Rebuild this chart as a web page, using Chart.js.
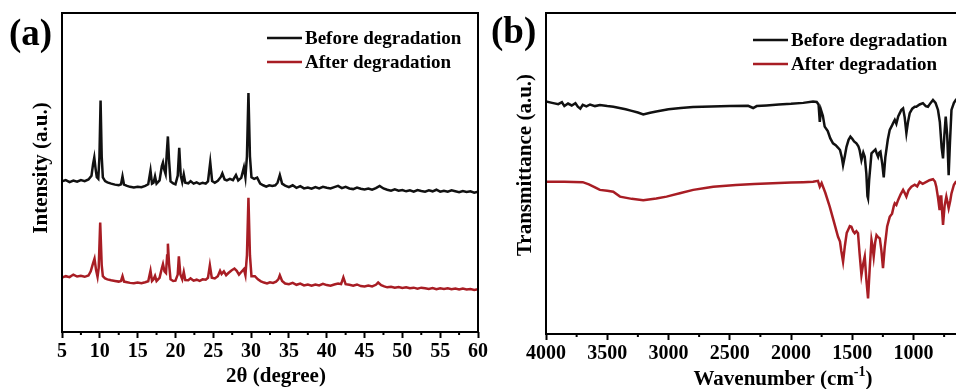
<!DOCTYPE html>
<html lang="en">
<head>
  <meta charset="UTF-8">
  <title>XRD and FTIR before / after degradation</title>
  <script src="https://cdn.jsdelivr.net/npm/chart.js"></script>
  <style>
    html, body {
      margin: 0;
      padding: 0;
      width: 956px;
      height: 389px;
      overflow: hidden;
      background: #fff;
    }
    #wrapA, #wrapB {
      position: absolute;
      top: 0;
    }
    #wrapA { left: 0; width: 500px; height: 389px; }
    #wrapB { left: 480px; width: 520px; height: 389px; }
  </style>
</head>
<body>

  <div id="wrapA"><canvas id="xrd" width="500" height="389"></canvas></div>
  <div id="wrapB"><canvas id="ftir" width="520" height="389"></canvas></div>

  <script>
    const seriesNames = ['Before degradation', 'After degradation'];

    // (a) XRD, 2θ in degrees
    const xrdTicks = [5, 10, 15, 20, 25, 30, 35, 40, 45, 50, 55, 60];
    const xrdBeforeX = [5.0, 5.5, 6.0, 6.5, 7.0, 7.5, 8.0, 8.5, 8.9, 9.1, 9.27, 9.45, 9.6, 9.8, 9.95, 10.1, 10.25, 10.4, 10.7, 11.0,
      11.5, 12.0, 12.5, 12.8, 13.0, 13.2, 13.6, 14.0, 14.5, 15.0, 15.5, 16.0, 16.4, 16.7, 16.9, 17.1, 17.3, 17.5, 17.9, 18.2,
      18.35, 18.5, 18.7, 18.85, 19.0, 19.15, 19.35, 19.7, 20.0, 20.3, 20.5, 20.7, 20.9, 21.1, 21.3, 21.7, 22.0, 22.4, 22.8, 23.2,
      23.6, 24.0, 24.3, 24.6, 24.85, 25.2, 25.6, 26.0, 26.2, 26.5, 26.8, 27.2, 27.6, 28.0, 28.3, 28.7, 29.05, 29.25, 29.45, 29.65,
      29.85, 30.05, 30.4, 30.8, 31.2, 31.6, 32.0, 32.4, 32.8, 33.2, 33.5, 33.8, 34.1, 34.5, 35.0, 35.5, 36.0, 36.5, 37.0, 37.5,
      38.0, 38.5, 39.0, 39.5, 40.0, 40.5, 41.0, 41.5, 42.0, 42.5, 43.0, 43.5, 44.0, 44.5, 45.0, 45.5, 46.0, 46.5, 47.0, 47.5,
      48.0, 48.5, 49.0, 49.5, 50.0, 50.5, 51.0, 51.5, 52.0, 52.5, 53.0, 53.5, 54.0, 54.5, 55.0, 55.5, 56.0, 56.5, 57.0, 57.5,
      58.0, 58.5, 59.0, 59.5, 60.0];
    const xrdBeforeY = [47.2, 47.6, 47.0, 47.5, 47.1, 47.6, 47.3, 47.8, 49.0, 52.5, 54.7, 51.0, 48.5, 48.0, 55.0, 72.6, 55.0, 48.5, 47.3, 46.9,
      46.5, 46.2, 46.0, 46.3, 48.8, 46.2, 45.8, 45.5, 45.3, 45.5, 45.4, 45.8, 46.3, 50.6, 46.5, 46.8, 48.8, 46.5, 47.5, 52.0,
      53.1, 51.0, 49.5, 56.0, 61.3, 54.0, 47.2, 46.6, 46.3, 49.0, 57.7, 49.0, 47.0, 49.4, 46.8, 46.6, 47.3, 46.5, 46.9, 46.4,
      46.8, 46.5, 47.2, 53.2, 47.3, 46.8, 47.4, 48.6, 49.7, 47.8, 47.5, 48.0, 47.6, 49.2, 47.5, 48.3, 51.6, 48.5, 55.0, 74.9,
      55.0, 48.5, 48.0, 48.4, 46.5, 46.0, 45.6, 46.0, 45.8, 46.0, 46.8, 49.2, 46.5, 45.9, 45.4, 46.0, 45.2, 45.7, 45.0, 45.3,
      44.9, 45.4, 45.0, 45.5, 45.2, 45.0, 45.4, 45.8, 45.1, 45.5, 45.0, 44.8, 45.3, 44.9, 44.7, 45.0, 44.6, 45.1, 45.8, 45.0,
      44.6, 44.3, 44.7, 44.3, 44.5, 44.1, 44.4, 44.0, 44.5, 44.2, 44.0, 44.4, 44.1, 44.6, 44.0, 44.3, 44.0, 44.4, 44.1, 43.8,
      44.2, 43.9, 44.1, 43.7, 44.0];
    const xrdAfterX = [5.0, 5.5, 6.0, 6.5, 7.0, 7.5, 8.0, 8.5, 8.8, 9.1, 9.3, 9.5, 9.7, 9.85, 10.05, 10.25, 10.4, 10.7, 11.0, 11.5,
      12.0, 12.5, 12.8, 13.0, 13.2, 13.6, 14.0, 14.5, 15.0, 15.5, 16.0, 16.4, 16.7, 16.9, 17.1, 17.3, 17.5, 17.9, 18.2, 18.35,
      18.55, 18.75, 18.9, 19.0, 19.15, 19.35, 19.7, 20.0, 20.3, 20.45, 20.65, 20.9, 21.1, 21.3, 21.7, 22.0, 22.4, 22.8, 23.2, 23.6,
      24.0, 24.3, 24.55, 24.8, 25.2, 25.6, 25.9, 26.1, 26.4, 26.7, 27.0, 27.4, 27.8, 28.1, 28.4, 28.7, 29.05, 29.25, 29.45, 29.65,
      29.85, 30.05, 30.5, 30.9, 31.3, 31.7, 32.1, 32.5, 32.9, 33.3, 33.6, 33.8, 34.1, 34.5, 35.0, 35.5, 36.0, 36.5, 37.0, 37.5,
      38.0, 38.5, 39.0, 39.5, 40.0, 40.5, 41.0, 41.5, 41.9, 42.2, 42.5, 43.0, 43.5, 44.0, 44.5, 45.0, 45.5, 46.0, 46.5, 46.8,
      47.2, 47.6, 48.0, 48.5, 49.0, 49.5, 50.0, 50.5, 51.0, 51.5, 52.0, 52.5, 53.0, 53.5, 54.0, 54.5, 55.0, 55.5, 56.0, 56.5,
      57.0, 57.5, 58.0, 58.5, 59.0, 59.5, 60.0];
    const xrdAfterY = [17.1, 17.5, 17.2, 18.0, 17.4, 17.6, 17.3, 17.7, 19.0, 21.5, 23.0, 19.5, 17.3, 20.0, 34.3, 21.0, 17.5, 16.8, 16.5, 16.2,
      16.0, 15.8, 16.0, 17.5, 15.8, 15.6, 15.4, 15.3, 15.5, 15.3, 15.6, 15.9, 19.2, 16.0, 16.5, 17.6, 16.0, 17.0, 20.0, 21.3,
      19.0, 18.5, 24.0, 27.7, 21.5, 16.5, 16.0, 16.1, 18.0, 23.7, 18.0, 16.5, 18.8, 16.3, 16.2, 16.8, 16.1, 16.4, 16.0, 16.5,
      16.4, 17.0, 20.9, 17.0, 16.8, 17.5, 19.2, 18.2, 19.0, 17.8, 18.5, 19.3, 19.9, 19.2, 18.0, 18.8, 19.7, 17.8, 24.0, 42.1,
      24.0, 17.5, 17.5, 16.5, 15.9, 15.5, 15.2, 15.6, 15.4, 15.8, 16.5, 17.8, 16.0, 15.2, 15.0, 15.4, 14.8, 15.2, 14.6, 14.9,
      14.5, 14.9, 14.6, 15.1, 14.7, 14.5, 14.9, 15.2, 15.0, 17.1, 15.0, 14.8, 14.5, 14.9, 14.4, 14.3, 14.6, 14.3, 14.8, 15.5,
      14.7, 14.3, 14.0, 14.2, 13.9, 14.1, 13.8, 14.0, 13.7, 13.9, 13.6, 13.9, 13.7, 13.5, 13.8, 13.4, 13.7, 13.5, 13.7, 13.4,
      13.6, 13.3, 13.6, 13.3, 13.5, 13.2, 13.4];

    // (b) FTIR, wavenumber in cm-1
    const ftirTicks = [4000, 3500, 3000, 2500, 2000, 1500, 1000, 500];
    const ftirBeforeX = [4000, 3950, 3900, 3870, 3850, 3820, 3790, 3760, 3740, 3720, 3700, 3670, 3640, 3600, 3560, 3500, 3450, 3400, 3350, 3300,
      3250, 3206, 3150, 3100, 3000, 2900, 2800, 2650, 2500, 2350, 2309, 2280, 2200, 2100, 2000, 1900, 1820, 1790, 1775, 1765,
      1755, 1740, 1725, 1700, 1680, 1657, 1635, 1615, 1600, 1585, 1575, 1560, 1547, 1530, 1515, 1500, 1485, 1466, 1450, 1440,
      1425, 1410, 1398, 1385, 1376, 1371, 1362, 1343, 1325, 1311, 1300, 1289, 1280, 1270, 1255, 1243, 1230, 1210, 1194, 1175,
      1160, 1153, 1140, 1125, 1112, 1100, 1085, 1072, 1058, 1045, 1031, 1010, 990, 977, 950, 923, 900, 882, 860, 841,
      820, 800, 785, 770, 759, 748, 737, 725, 713, 702, 690, 670, 655, 620, 580, 540, 500, 450, 400];
    const ftirBeforeY = [72.4, 72.0, 71.6, 72.2, 71.0, 71.8, 71.2, 71.9, 70.8, 70.2, 71.4, 70.9, 71.5, 71.0, 71.3, 71.0, 70.8, 70.4, 70.0, 69.5,
      69.0, 68.4, 68.9, 69.3, 70.0, 70.4, 70.7, 70.9, 71.0, 71.1, 70.4, 71.0, 71.2, 71.5, 71.7, 72.0, 72.4, 72.3, 71.5, 66.1,
      69.8, 68.0, 64.6, 63.2, 61.0, 59.4, 58.8, 58.0, 57.3, 55.0, 52.6, 55.5, 58.3, 60.5, 61.5, 60.8, 60.0, 59.4, 58.5, 57.3,
      54.2, 56.5, 55.2, 50.0, 43.0, 42.3, 48.0, 56.3, 57.0, 57.5, 56.2, 55.2, 56.5, 56.8, 53.0, 48.8, 55.0, 60.5, 63.6, 65.0,
      66.2, 66.7, 65.5, 67.8, 68.8, 69.8, 70.3, 67.5, 62.6, 66.0, 68.8, 70.2, 70.8, 70.8, 71.5, 71.9, 71.0, 70.8, 72.0, 72.9,
      72.0, 69.8, 66.0, 58.0, 54.7, 62.0, 67.7, 62.0, 49.5, 60.0, 69.8, 72.0, 72.9, 71.8, 71.2, 70.5, 70.8, 70.2, 70.0];
    const ftirAfterX = [4000, 3850, 3700, 3650, 3600, 3560, 3500, 3451, 3396, 3300, 3206, 3100, 3016, 2900, 2798, 2700, 2635, 2450, 2300, 2150,
      2000, 1900, 1820, 1780, 1765, 1750, 1720, 1684, 1650, 1616, 1600, 1590, 1575, 1560, 1545, 1534, 1520, 1507, 1492, 1480,
      1466, 1453, 1440, 1425, 1410, 1398, 1385, 1371, 1358, 1343, 1335, 1325, 1313, 1302, 1290, 1275, 1262, 1249, 1235, 1215,
      1194, 1175, 1160, 1153, 1140, 1126, 1105, 1085, 1070, 1058, 1040, 1017, 990, 970, 950, 925, 895, 870, 841, 825,
      814, 800, 787, 780, 773, 766, 759, 746, 732, 722, 713, 700, 690, 670, 655, 620, 580, 540, 500, 450, 400];
    const ftirAfterY = [47.4, 47.4, 47.3, 46.6, 45.7, 44.9, 44.6, 44.3, 42.8, 42.1, 41.7, 42.2, 42.8, 43.9, 44.9, 45.5, 45.9, 46.4, 46.7, 47.0,
      47.2, 47.3, 47.4, 47.7, 45.9, 47.0, 44.0, 39.7, 35.0, 30.3, 28.8, 26.0, 22.5, 27.5, 31.5, 32.4, 33.6, 33.4, 32.0, 31.4,
      32.0, 31.4, 25.0, 18.4, 22.0, 24.1, 17.0, 11.1, 20.0, 29.3, 27.5, 24.1, 28.5, 30.8, 30.2, 29.8, 26.0, 20.5, 27.0, 33.5,
      36.5, 37.5, 40.0, 40.7, 40.2, 41.7, 43.5, 44.9, 43.8, 42.8, 44.8, 45.9, 46.5, 46.0, 47.4, 46.8, 47.4, 47.9, 48.2, 47.5,
      45.9, 42.5, 38.6, 42.8, 42.8, 38.0, 34.0, 40.0, 42.8, 41.0, 39.2, 41.5, 43.8, 46.5, 47.4, 47.5, 47.3, 47.0, 47.2, 46.8, 46.5];

    const black = '#111111';
    const red = '#a81d24';
    const serif = "'Liberation Serif', 'Times New Roman', serif";

    function pts(xs, ys) {
      return xs.map((x, i) => ({ x: x, y: ys[i] }));
    }

    // frame, minor ticks, panel letter, legend and axis titles
    const decoPlugin = {
      id: 'deco',
      afterDraw(chart, args, opts) {
        const ctx = chart.ctx;
        const a = chart.chartArea;
        const xs = chart.scales.x;
        ctx.save();
        ctx.strokeStyle = '#000';
        ctx.fillStyle = '#000';

        // minor ticks halfway between majors
        ctx.lineWidth = 2;
        ctx.beginPath();
        for (let i = 0; i < xs.ticks.length - 1; i++) {
          const mid = (xs.ticks[i].value + xs.ticks[i + 1].value) / 2;
          const px = xs.getPixelForValue(mid);
          ctx.moveTo(px, a.bottom);
          ctx.lineTo(px, a.bottom + 3);
        }
        ctx.stroke();

        // box
        ctx.strokeRect(a.left, a.top, a.right - a.left, a.bottom - a.top);

        // panel letter
        ctx.font = 'bold 37px ' + serif;
        ctx.textBaseline = 'middle';
        ctx.textAlign = 'left';
        ctx.fillText(opts.letter, opts.letterX, opts.letterY);

        // legend
        ctx.font = 'bold 19px ' + serif;
        chart.data.datasets.forEach((ds, i) => {
          const y = opts.legendY + i * 24;
          ctx.strokeStyle = ds.borderColor;
          ctx.lineWidth = 2.5;
          ctx.beginPath();
          ctx.moveTo(opts.legendX, y);
          ctx.lineTo(opts.legendX + 35, y);
          ctx.stroke();
          ctx.fillStyle = '#000';
          ctx.fillText(ds.label, opts.legendX + 38, y + 1);
        });

        // y title
        ctx.font = 'bold 21px ' + serif;
        ctx.save();
        ctx.translate(opts.yTitleX, opts.yTitleY);
        ctx.rotate(-Math.PI / 2);
        ctx.textAlign = 'center';
        ctx.textBaseline = 'middle';
        ctx.fillText(opts.yTitle, 0, 0);
        ctx.restore();

        // x title, with optional superscript part
        ctx.textBaseline = 'alphabetic';
        ctx.textAlign = 'left';
        const main = opts.xTitle;
        const sup = opts.xTitleSup || '';
        const tail = opts.xTitleTail || '';
        ctx.font = 'bold 21px ' + serif;
        const w1 = ctx.measureText(main).width;
        const w3 = ctx.measureText(tail).width;
        ctx.font = 'bold 14px ' + serif;
        const w2 = ctx.measureText(sup).width;
        let x0 = opts.xTitleX - (w1 + w2 + w3) / 2;
        ctx.font = 'bold 21px ' + serif;
        ctx.fillText(main, x0, opts.xTitleY);
        if (sup) {
          ctx.font = 'bold 14px ' + serif;
          ctx.fillText(sup, x0 + w1, opts.xTitleY - 9);
          ctx.font = 'bold 21px ' + serif;
          ctx.fillText(tail, x0 + w1 + w2, opts.xTitleY);
        }
        ctx.restore();
      }
    };

    function makeChart(id, cfg) {
      return new Chart(document.getElementById(id), {
        type: 'line',
        data: {
          datasets: [
            { label: seriesNames[0], data: cfg.before, borderColor: black, borderWidth: 2.5, pointRadius: 0, tension: 0 },
            { label: seriesNames[1], data: cfg.after, borderColor: red, borderWidth: 2.5, pointRadius: 0, tension: 0 }
          ]
        },
        options: {
          responsive: false,
          animation: false,
          devicePixelRatio: 1,
          parsing: false,
          layout: { padding: { top: 13, right: cfg.padRight, left: 0, bottom: 0 } },
          plugins: {
            legend: { display: false },
            tooltip: { enabled: false },
            deco: cfg.deco
          },
          scales: {
            x: {
              type: 'linear',
              min: cfg.min,
              max: cfg.max,
              reverse: cfg.reverse,
              afterBuildTicks: s => { s.ticks = cfg.ticks.map(v => ({ value: v })); },
              afterFit: s => {
                s.height = cfg.xHeight;
                s.paddingLeft = 0;
                s.paddingRight = 0;
              },
              grid: { display: true, drawOnChartArea: false, drawTicks: true, tickLength: 6, tickWidth: 2, tickColor: '#000' },
              border: { display: false },
              ticks: {
                color: '#000',
                padding: 2,
                maxRotation: 0,
                autoSkip: false,
                font: { family: serif, weight: 'bold', size: 20 },
                callback: v => String(v)
              }
            },
            y: {
              min: 0,
              max: 100,
              afterFit: s => { s.width = cfg.yWidth; },
              grid: { display: false },
              border: { display: false },
              ticks: { display: false }
            }
          }
        },
        plugins: [decoPlugin]
      });
    }

    makeChart('xrd', {
      before: pts(xrdBeforeX, xrdBeforeY),
      after: pts(xrdAfterX, xrdAfterY),
      ticks: xrdTicks, min: 5, max: 60, reverse: false,
      padRight: 22, xHeight: 57, yWidth: 62,
      deco: {
        letter: '(a)', letterX: 9, letterY: 35,
        legendX: 267, legendY: 38,
        yTitle: 'Intensity (a.u.)', yTitleX: 42, yTitleY: 168,
        xTitle: '2θ (degree)', xTitleX: 276, xTitleY: 382
      }
    });

    makeChart('ftir', {
      before: pts(ftirBeforeX, ftirBeforeY),
      after: pts(ftirAfterX, ftirAfterY),
      ticks: ftirTicks, min: 400, max: 4000, reverse: true,
      padRight: 13, xHeight: 55, yWidth: 66,
      deco: {
        letter: '(b)', letterX: 11, letterY: 33,
        legendX: 273, legendY: 40,
        yTitle: 'Transmittance (a.u.)', yTitleX: 46, yTitleY: 165,
        xTitle: 'Wavenumber (cm', xTitleSup: '-1', xTitleTail: ')', xTitleX: 303, xTitleY: 385
      }
    });
  </script>

</body>
</html>
